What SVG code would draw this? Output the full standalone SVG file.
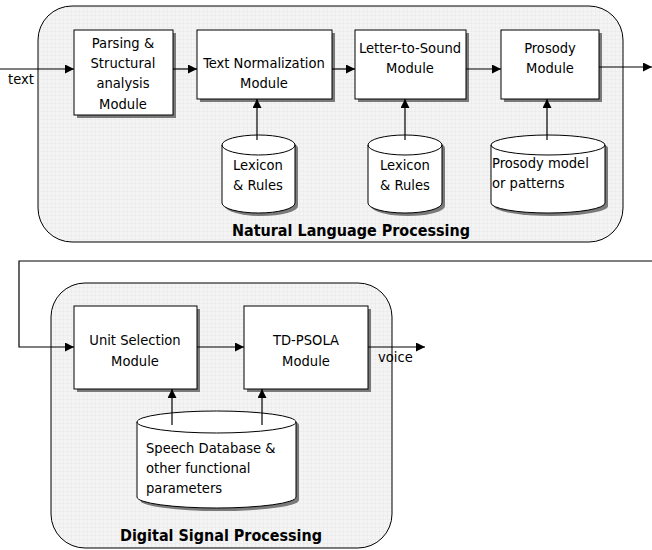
<svg xmlns="http://www.w3.org/2000/svg" width="652" height="550" viewBox="0 0 652 550">
  <defs>
    <pattern id="grid" width="4" height="4" patternUnits="userSpaceOnUse">
      <rect width="4" height="4" fill="#f4f4f4"/>
      <path d="M4 0V4M0 4H4" stroke="#e3e3e3" stroke-width="0.6" fill="none"/>
    </pattern>
    <marker id="arr" viewBox="0 0 10 10" refX="10" refY="5" markerWidth="9" markerHeight="9" markerUnits="userSpaceOnUse" orient="auto">
      <path d="M0 0L10 5L0 10z" fill="#000"/>
    </marker>
  </defs>
  <style>
    .panel { fill: url(#grid); stroke: #000; stroke-width: 1; }
    .box { fill: #fff; stroke: #000; stroke-width: 1; }
    .shadow { fill: #7a7a7a; stroke: none; }
    .link { fill: none; stroke: #000; stroke-width: 1.2; }
    .lbl { font-family: "DejaVu Sans Condensed", "DejaVu Sans", sans-serif; font-size: 14.6px; fill: #000; }
    .mid { text-anchor: middle; }
    .title { font-family: "DejaVu Sans", sans-serif; font-weight: bold; font-size: 15px; text-anchor: middle; fill: #000; }
  </style>

  <!-- processing panels -->
  <g id="nlp-panel">
    <rect class="panel" x="38" y="6" width="585" height="236" rx="34" ry="34"/>
    <text class="title" x="351" y="236" textLength="238" lengthAdjust="spacingAndGlyphs">Natural Language Processing</text>
  </g>
  <g id="dsp-panel">
    <rect class="panel" x="51" y="283" width="341" height="265" rx="34" ry="34"/>
    <text class="title" x="221" y="541" textLength="202" lengthAdjust="spacingAndGlyphs">Digital Signal Processing</text>
  </g>

  <!-- modules -->
  <g id="parsing">
    <rect class="shadow" x="77" y="33" width="99" height="85"/>
    <rect class="box" x="74" y="30" width="99" height="85"/>
    <text class="lbl mid" x="123" y="48">Parsing &amp;</text>
    <text class="lbl mid" x="123" y="68">Structural</text>
    <text class="lbl mid" x="123" y="88">analysis</text>
    <text class="lbl mid" x="123" y="109">Module</text>
  </g>
  <g id="text-normalization">
    <rect class="shadow" x="200" y="33" width="135" height="69"/>
    <rect class="box" x="197" y="30" width="135" height="69"/>
    <text class="lbl mid" x="264" y="68">Text Normalization</text>
    <text class="lbl mid" x="264" y="88">Module</text>
  </g>
  <g id="letter-to-sound">
    <rect class="shadow" x="358" y="33" width="111" height="69"/>
    <rect class="box" x="355" y="30" width="111" height="69"/>
    <text class="lbl mid" x="410" y="53">Letter-to-Sound</text>
    <text class="lbl mid" x="410" y="73">Module</text>
  </g>
  <g id="prosody">
    <rect class="shadow" x="504" y="33" width="98" height="69"/>
    <rect class="box" x="501" y="30" width="98" height="69"/>
    <text class="lbl mid" x="550" y="53">Prosody</text>
    <text class="lbl mid" x="550" y="73">Module</text>
  </g>
  <g id="unit-selection">
    <rect class="shadow" x="77" y="309" width="123" height="83"/>
    <rect class="box" x="74" y="306" width="123" height="83"/>
    <text class="lbl mid" x="135" y="345">Unit Selection</text>
    <text class="lbl mid" x="135" y="366">Module</text>
  </g>
  <g id="td-psola">
    <rect class="shadow" x="247" y="309" width="124" height="83"/>
    <rect class="box" x="244" y="306" width="124" height="83"/>
    <text class="lbl mid" x="306" y="345">TD-PSOLA</text>
    <text class="lbl mid" x="306" y="366">Module</text>
  </g>

  <!-- data stores -->
  <g id="lexicon-1">
    <path class="shadow" d="M225 148A36.5 10 0 0 1 298 148V206A36.5 10 0 0 1 225 206Z"/>
    <path class="box" d="M222 145A36.5 10 0 0 1 295 145V203A36.5 10 0 0 1 222 203Z"/>
    <path class="link" style="stroke-width:1" d="M222 145A36.5 10 0 0 0 295 145"/>
    <text class="lbl mid" x="258" y="170">Lexicon</text>
    <text class="lbl mid" x="258" y="190">&amp; Rules</text>
  </g>
  <g id="lexicon-2">
    <path class="shadow" d="M371 148A37 10 0 0 1 445 148V206A37 10 0 0 1 371 206Z"/>
    <path class="box" d="M368 145A37 10 0 0 1 442 145V203A37 10 0 0 1 368 203Z"/>
    <path class="link" style="stroke-width:1" d="M368 145A37 10 0 0 0 442 145"/>
    <text class="lbl mid" x="405" y="170">Lexicon</text>
    <text class="lbl mid" x="405" y="190">&amp; Rules</text>
  </g>
  <g id="prosody-model">
    <path class="shadow" d="M494 148A57 10 0 0 1 608 148V206A57 10 0 0 1 494 206Z"/>
    <path class="box" d="M491 145A57 10 0 0 1 605 145V203A57 10 0 0 1 491 203Z"/>
    <path class="link" style="stroke-width:1" d="M491 145A57 10 0 0 0 605 145"/>
    <text class="lbl" x="492" y="168">Prosody model</text>
    <text class="lbl" x="492" y="188">or patterns</text>
  </g>
  <g id="speech-database">
    <path class="shadow" d="M140 425A79.5 11 0 0 1 299 425V500A79.5 11 0 0 1 140 500Z"/>
    <path class="box" d="M137 422A79.5 11 0 0 1 296 422V497A79.5 11 0 0 1 137 497Z"/>
    <path class="link" style="stroke-width:1" d="M137 422A79.5 11 0 0 0 296 422"/>
    <text class="lbl" x="146" y="453">Speech Database &amp;</text>
    <text class="lbl" x="146" y="473">other functional</text>
    <text class="lbl" x="146" y="493">parameters</text>
  </g>

  <!-- connectors -->
  <g id="connectors">
    <path class="link" marker-end="url(#arr)" d="M0 69H74"/>
    <path class="link" marker-end="url(#arr)" d="M173 69H197"/>
    <path class="link" marker-end="url(#arr)" d="M332 69H355"/>
    <path class="link" marker-end="url(#arr)" d="M466 69H501"/>
    <path class="link" marker-end="url(#arr)" d="M599 67H652"/>
    <path class="link" marker-end="url(#arr)" d="M257 140V99"/>
    <path class="link" marker-end="url(#arr)" d="M405 140V99"/>
    <path class="link" marker-end="url(#arr)" d="M547 140V99"/>
    <path class="link" marker-end="url(#arr)" d="M652 261H19V347H74"/>
    <path class="link" marker-end="url(#arr)" d="M197 347H244"/>
    <path class="link" marker-end="url(#arr)" d="M368 347H425"/>
    <path class="link" marker-end="url(#arr)" d="M172 425V389"/>
    <path class="link" marker-end="url(#arr)" d="M262 425V389"/>
    <text class="lbl" x="8" y="84">text</text>
    <text class="lbl" x="378" y="362">voice</text>
  </g>
</svg>
